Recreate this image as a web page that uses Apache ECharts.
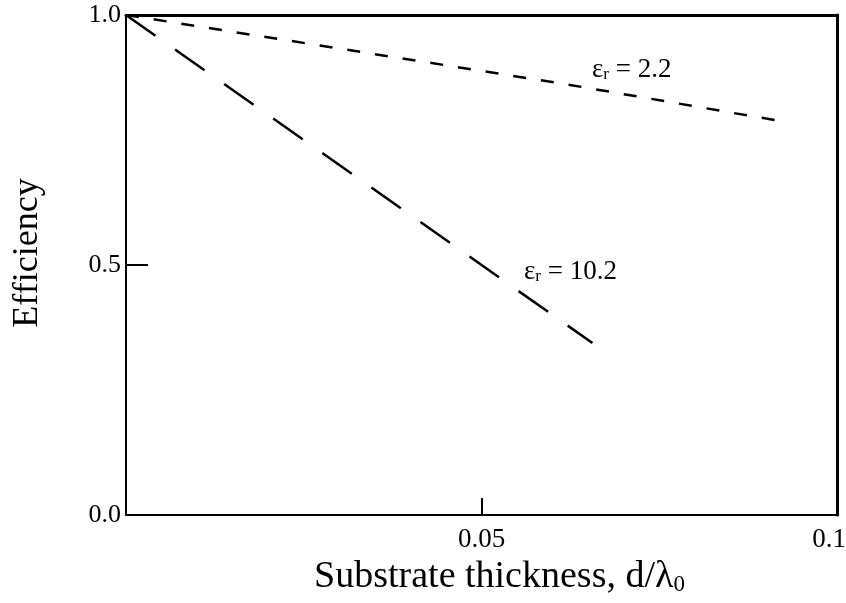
<!DOCTYPE html>
<html>
<head>
<meta charset="utf-8">
<title>Efficiency vs substrate thickness</title>
<script src="https://cdn.jsdelivr.net/npm/echarts@6/dist/echarts.min.js"></script>
<style>
  html, body { margin: 0; padding: 0; background: #fff; }
  #chart { width: 846px; height: 603px; }
</style>
</head>
<body>
<div id="chart"></div>
<script>
// Values.
const thick22 = [0, 0.0617, 0.0924];
const eff22 = [1.0, 0.862, 0.787];
const thick102 = [0, 0.0516, 0.0656];
const eff102 = [1.0, 0.484, 0.344];
const xTicks = [0.05, 0.1];
const yTicks = [0, 0.5, 1.0];

const serif = '"Liberation Serif", "DejaVu Serif", serif';

function pairs(xs, ys) {
  return xs.map(function (x, i) { return [x, ys[i]]; });
}

// Rich text style for the "εr = n" annotations.
const epsRich = {
  e: {fontFamily: serif, fontSize: 27, fill: '#000'},
  s: {fontFamily: serif, fontSize: 17, fill: '#000', padding: [11, 0, 0, 0]},
  n: {fontFamily: serif, fontSize: 27, fill: '#000'}
};

const chart = echarts.init(document.getElementById('chart'), null, {renderer: 'canvas'});

const option = {
  animation: false,
  backgroundColor: '#fff',
  grid: {left: 126, top: 15, right: 9, bottom: 88, containLabel: false, outerBoundsMode: 'none'},
  xAxis: [
    {
      type: 'value',
      position: 'bottom',
      min: 0,
      max: 0.1,
      interval: 0.05,
      name: '{a|Substrate thickness, d/λ}{s|0}',
      nameLocation: 'middle',
      nameGap: 42,
      nameTextStyle: {
        rich: {
          a: {fontFamily: serif, fontSize: 38, color: '#000', padding: [0, 0, 0, 36]},
          s: {fontFamily: serif, fontSize: 23, color: '#000', padding: [16, 0, 0, 0]}
        }
      },
      axisLine: {onZero: false, lineStyle: {color: '#000', width: 2}},
      axisTick: {inside: true, length: 17, lineStyle: {color: '#000', width: 2}},
      axisLabel: {
        margin: 11,
        fontFamily: serif,
        fontSize: 27,
        color: '#000',
        formatter: function (v) {
          if (v === 0.1) {
            return '{m|0.1}';
          }
          return xTicks.indexOf(v) >= 0 ? String(v) : '';
        },
        rich: {
          m: {fontFamily: serif, fontSize: 27, color: '#000', padding: [0, 16, 0, 0]}
        }
      },
      splitLine: {show: false}
    },
    {
      type: 'value',
      position: 'top',
      min: 0,
      max: 0.1,
      axisLine: {onZero: false, lineStyle: {color: '#000', width: 3}},
      axisTick: {show: false},
      axisLabel: {show: false},
      splitLine: {show: false}
    }
  ],
  yAxis: [
    {
      type: 'value',
      position: 'left',
      min: 0,
      max: 1,
      interval: 0.5,
      name: 'Efficiency',
      nameLocation: 'middle',
      nameGap: 80,
      nameTextStyle: {fontFamily: serif, fontSize: 36, color: '#000', padding: [0, 0, 0, 24]},
      axisLine: {onZero: false, lineStyle: {color: '#000', width: 2}},
      axisTick: {inside: true, length: 22, lineStyle: {color: '#000', width: 2}},
      axisLabel: {
        margin: 5,
        fontFamily: serif,
        fontSize: 26,
        color: '#000',
        formatter: function (v) {
          return yTicks.indexOf(v) >= 0 ? v.toFixed(1) : '';
        }
      },
      splitLine: {show: false}
    },
    {
      type: 'value',
      position: 'right',
      min: 0,
      max: 1,
      axisLine: {onZero: false, lineStyle: {color: '#000', width: 3}},
      axisTick: {show: false},
      axisLabel: {show: false},
      splitLine: {show: false}
    }
  ],
  series: [
    {
      name: 'er = 2.2',
      type: 'line',
      data: pairs(thick22, eff22),
      showSymbol: false,
      lineStyle: {color: '#000', width: 2.5, type: [13, 15]}
    },
    {
      name: 'er = 10.2',
      type: 'line',
      data: pairs(thick102, eff102),
      showSymbol: false,
      lineStyle: {color: '#000', width: 2.5, type: [36, 24]}
    }
  ],
  graphic: [
    {
      type: 'text',
      left: 592,
      top: 56,
      style: {text: '{e|ε}{s|r}{n| = 2.2}', rich: epsRich}
    },
    {
      type: 'text',
      left: 524,
      top: 258,
      style: {text: '{e|ε}{s|r}{n| = 10.2}', rich: epsRich}
    }
  ]
};

chart.setOption(option);
</script>
</body>
</html>
